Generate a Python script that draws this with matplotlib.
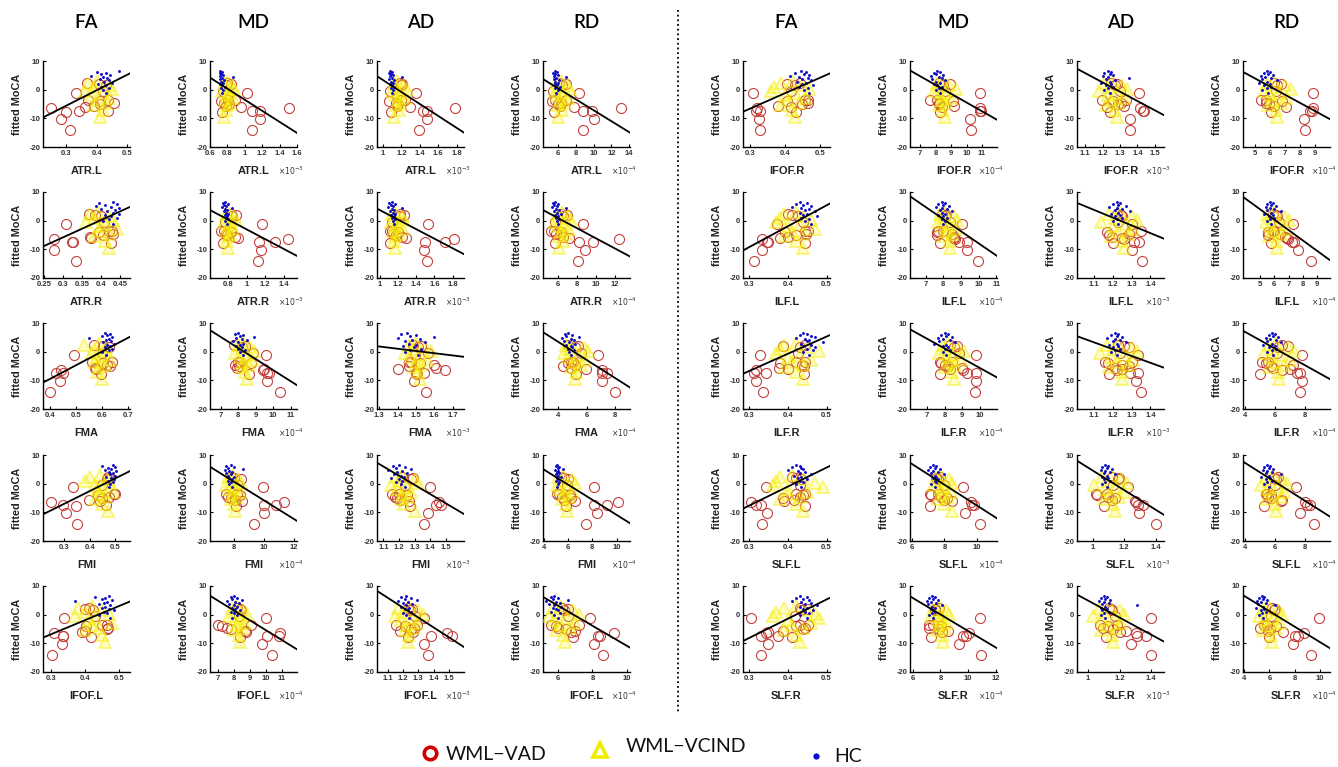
import matplotlib
matplotlib.use('Agg')
import matplotlib.pyplot as plt

# fitted MoCA per group (same subjects in every panel)
vad_y = [-14, -10.3, -7.8, -7.5, -7.3, -6.3, -6, -5.8, -5, -4.5, -3.9, -3.7, -3.5, -1, -0.5, 1.5, 2, 2.2]
vci_y = [3.0, 2.2, 1.5, 0.8, 0.2, -0.5, -1.2, -2.0, -2.8, -3.6, -4.5, -5.5, -7.0, -9.5]
hc_y = [6.6, 6.2, 5.9, 5.5, 5.2, 4.8, 4.4, 4.0, 3.6, 3.2, 2.8, 2.4, 2.0, 1.6, 1.1, 0.6, -0.2, -1.0]

left_tracts = ["ATR.L", "ATR.R", "FMA", "FMI", "IFOF.L"]
right_tracts = ["IFOF.R", "ILF.L", "ILF.R", "SLF.L", "SLF.R"]

# ---------------- left half ----------------
fa_left_vad = [
    [0.313, 0.283, 0.297, 0.438, 0.34, 0.25, 0.361, 0.391, 0.41, 0.458, 0.411, 0.439, 0.371, 0.33, 0.42, 0.43, 0.408, 0.369],
    [0.333, 0.276, 0.426, 0.323, 0.326, 0.276, 0.372, 0.37, 0.403, 0.431, 0.394, 0.428, 0.42, 0.307, 0.407, 0.40, 0.383, 0.368],
    [0.40, 0.438, 0.597, 0.451, 0.421, 0.443, 0.575, 0.572, 0.631, 0.618, 0.602, 0.64, 0.56, 0.49, 0.60, 0.628, 0.602, 0.57],
    [0.35, 0.308, 0.347, 0.463, 0.297, 0.247, 0.44, 0.397, 0.447, 0.475, 0.433, 0.497, 0.50, 0.333, 0.45, 0.467, 0.48, 0.47],
    [0.303, 0.33, 0.416, 0.333, 0.335, 0.307, 0.39, 0.399, 0.466, 0.468, 0.402, 0.449, 0.465, 0.337, 0.43, 0.424, 0.399, 0.41],
]
fa_left_vci = [
    [0.40, 0.37, 0.44, 0.39, 0.45, 0.36, 0.42, 0.38, 0.44, 0.40, 0.43, 0.39, 0.42, 0.41],
    [0.39, 0.37, 0.42, 0.38, 0.43, 0.36, 0.41, 0.40, 0.44, 0.39, 0.42, 0.38, 0.41, 0.42],
    [0.59, 0.53, 0.61, 0.57, 0.62, 0.56, 0.60, 0.58, 0.63, 0.57, 0.61, 0.59, 0.58, 0.60],
    [0.44, 0.40, 0.47, 0.38, 0.48, 0.42, 0.45, 0.43, 0.49, 0.44, 0.46, 0.42, 0.45, 0.47],
    [0.42, 0.38, 0.45, 0.40, 0.47, 0.37, 0.43, 0.41, 0.48, 0.42, 0.44, 0.40, 0.45, 0.46],
]
fa_left_hc = [
    [0.475, 0.40, 0.43, 0.415, 0.445, 0.38, 0.42, 0.435, 0.41, 0.44, 0.425, 0.45, 0.405, 0.43, 0.415, 0.44, 0.42, 0.43],
    [0.43, 0.395, 0.44, 0.41, 0.385, 0.425, 0.445, 0.40, 0.435, 0.415, 0.43, 0.445, 0.41, 0.425, 0.44, 0.42, 0.405, 0.43],
    [0.61, 0.63, 0.62, 0.60, 0.64, 0.55, 0.625, 0.615, 0.635, 0.605, 0.645, 0.62, 0.63, 0.61, 0.64, 0.625, 0.60, 0.615],
    [0.49, 0.45, 0.50, 0.47, 0.485, 0.46, 0.505, 0.475, 0.49, 0.48, 0.50, 0.465, 0.485, 0.495, 0.47, 0.49, 0.48, 0.475],
    [0.47, 0.43, 0.46, 0.45, 0.48, 0.37, 0.465, 0.455, 0.44, 0.475, 0.46, 0.45, 0.47, 0.485, 0.455, 0.465, 0.44, 0.475],
]
fa_left_xlim = [(0.222, 0.511), (0.247, 0.475), (0.372, 0.708), (0.217, 0.558), (0.275, 0.533)]
fa_left_ticks = [[0.3, 0.4, 0.5], [0.25, 0.3, 0.35, 0.4, 0.45], [0.4, 0.5, 0.6, 0.7], [0.3, 0.4, 0.5], [0.3, 0.4, 0.5]]
fa_left_fit = [(-9.7, 5.7), (-9.0, 4.8), (-10.8, 5.2), (-10.7, 4.4), (-8.0, 4.6)]
fa_left_exp = [None] * 5

md_left_vad = [
    [1.08, 1.18, 0.74, 1.17, 1.08, 1.51, 0.96, 0.78, 0.82, 0.76, 0.73, 0.885, 0.81, 1.02, 0.75, 0.78, 0.84, 0.80],
    [1.126, 1.158, 0.74, 1.30, 1.135, 1.45, 0.90, 0.87, 0.786, 0.77, 0.823, 0.72, 0.75, 1.167, 0.76, 0.84, 0.88, 0.83],
    [10.4, 9.63, 8.6, 9.77, 9.65, 9.45, 9.5, 7.91, 8.05, 7.81, 8.72, 8.1, 8.0, 9.58, 8.84, 8.2, 8.4, 7.74],
    [9.37, 10.06, 8.14, 10.0, 10.86, 11.34, 8.57, 8.09, 7.86, 7.63, 8.43, 7.51, 8.2, 9.94, 8.29, 8.51, 8.0, 7.8],
    [10.37, 9.74, 8.41, 10.8, 10.05, 10.9, 8.75, 8.68, 7.84, 7.6, 7.3, 9.1, 7.0, 10.0, 8.3, 8.47, 8.37, 8.2],
]
md_left_vci = [
    [0.80, 0.76, 0.85, 0.78, 0.88, 0.74, 0.82, 0.79, 0.86, 0.77, 0.83, 0.80, 0.78, 0.76],
    [0.80, 0.77, 0.86, 0.79, 0.88, 0.75, 0.83, 0.80, 0.85, 0.77, 0.82, 0.79, 0.78, 0.80],
    [8.3, 8.0, 8.7, 8.2, 8.9, 7.8, 8.5, 8.1, 8.8, 8.3, 8.6, 8.2, 8.4, 8.5],
    [7.9, 7.6, 8.3, 7.8, 8.5, 7.5, 8.1, 7.7, 8.4, 7.9, 8.2, 7.8, 8.0, 8.1],
    [8.2, 7.9, 8.6, 8.0, 8.8, 7.7, 8.4, 8.1, 8.7, 8.2, 8.5, 8.0, 8.3, 8.4],
]
md_left_hc = [
    [0.72, 0.74, 0.71, 0.73, 0.75, 0.72, 0.87, 0.74, 0.71, 0.76, 0.73, 0.75, 0.72, 0.74, 0.77, 0.73, 0.75, 0.74],
    [0.76, 0.74, 0.79, 0.75, 0.77, 0.73, 0.84, 0.76, 0.78, 0.75, 0.77, 0.80, 0.76, 0.78, 0.77, 0.79, 0.76, 0.78],
    [8.0, 7.8, 8.3, 8.1, 8.9, 7.9, 8.2, 8.5, 7.7, 8.0, 8.3, 8.1, 7.9, 8.2, 8.0, 8.4, 8.1, 8.3],
    [7.8, 7.5, 8.0, 7.6, 8.6, 7.4, 7.7, 7.9, 7.5, 7.8, 7.6, 8.0, 7.7, 7.9, 7.6, 7.8, 7.7, 7.9],
    [8.0, 7.8, 8.2, 7.9, 8.5, 7.6, 8.1, 8.3, 7.7, 8.0, 8.2, 7.9, 8.1, 8.4, 7.8, 8.0, 8.2, 7.9],
]
md_left_xlim = [(0.6, 1.6), (0.6, 1.544), (6.39, 11.37), (6.43, 12.23), (6.52, 11.95)]
md_left_ticks = [[0.6, 0.8, 1, 1.2, 1.4, 1.6], [0.8, 1, 1.2, 1.4], [7, 8, 9, 10, 11], [8, 10, 12], [7, 8, 9, 10, 11]]
md_left_fit = [(4.2, -15.1), (3.7, -12.3), (7.5, -11.7), (5.9, -13.0), (6.6, -12.1)]
md_left_exp = [-3, -3, -4, -4, -4]

ad_left_vad = [
    [1.39, 1.48, 1.09, 1.48, 1.43, 1.78, 1.29, 1.15, 1.16, 1.14, 1.07, 1.24, 1.20, 1.36, 1.08, 1.20, 1.21, 1.19],
    [1.515, 1.48, 1.108, 1.716, 1.50, 1.82, 1.285, 1.248, 1.18, 1.145, 1.20, 1.108, 1.13, 1.53, 1.13, 1.22, 1.262, 1.225],
    [1.554, 1.487, 1.508, 1.543, 1.50, 1.658, 1.40, 1.612, 1.462, 1.60, 1.524, 1.473, 1.46, 1.497, 1.566, 1.51, 1.53, 1.485],
    [1.358, 1.386, 1.271, 1.467, 1.435, 1.454, 1.263, 1.209, 1.19, 1.173, 1.25, 1.154, 1.20, 1.40, 1.236, 1.277, 1.29, 1.222],
    [1.362, 1.334, 1.23, 1.384, 1.522, 1.486, 1.266, 1.183, 1.252, 1.274, 1.21, 1.293, 1.155, 1.334, 1.28, 1.246, 1.26, 1.235],
]
ad_left_vci = [
    [1.15, 1.12, 1.22, 1.14, 1.26, 1.10, 1.18, 1.13, 1.24, 1.16, 1.20, 1.14, 1.17, 1.12],
    [1.17, 1.13, 1.24, 1.15, 1.27, 1.12, 1.20, 1.16, 1.25, 1.14, 1.21, 1.17, 1.15, 1.16],
    [1.50, 1.46, 1.55, 1.48, 1.58, 1.44, 1.52, 1.47, 1.56, 1.50, 1.53, 1.49, 1.51, 1.52],
    [1.22, 1.18, 1.30, 1.20, 1.32, 1.15, 1.25, 1.19, 1.28, 1.22, 1.26, 1.21, 1.23, 1.30],
    [1.24, 1.17, 1.30, 1.20, 1.33, 1.15, 1.26, 1.19, 1.29, 1.22, 1.27, 1.21, 1.24, 1.23],
]
ad_left_hc = [
    [1.08, 1.10, 1.07, 1.09, 1.11, 1.08, 1.21, 1.10, 1.06, 1.12, 1.09, 1.11, 1.08, 1.10, 1.12, 1.09, 1.11, 1.10],
    [1.13, 1.10, 1.16, 1.12, 1.14, 1.09, 1.24, 1.13, 1.15, 1.11, 1.14, 1.17, 1.12, 1.15, 1.13, 1.16, 1.14, 1.15],
    [1.45, 1.42, 1.50, 1.47, 1.60, 1.40, 1.52, 1.48, 1.44, 1.55, 1.46, 1.50, 1.43, 1.49, 1.53, 1.47, 1.44, 1.51],
    [1.20, 1.16, 1.24, 1.18, 1.28, 1.13, 1.22, 1.19, 1.25, 1.17, 1.21, 1.23, 1.15, 1.20, 1.22, 1.18, 1.21, 1.24],
    [1.22, 1.19, 1.25, 1.21, 1.29, 1.17, 1.23, 1.20, 1.26, 1.22, 1.19, 1.24, 1.21, 1.23, 1.25, 1.20, 1.22, 1.24],
]
ad_left_xlim = [(0.935, 1.88), (0.967, 1.926), (1.288, 1.762), (1.059, 1.617), (1.031, 1.597)]
ad_left_ticks = [[1, 1.2, 1.4, 1.6, 1.8], [1, 1.2, 1.4, 1.6, 1.8], [1.3, 1.4, 1.5, 1.6, 1.7],
                 [1.1, 1.2, 1.3, 1.4, 1.5], [1.1, 1.2, 1.3, 1.4, 1.5]]
ad_left_fit = [(4.7, -15.0), (4.2, -11.7), (1.9, -1.8), (7.3, -10.6), (8.3, -11.3)]
ad_left_exp = [-3] * 5

rd_left_vad = [
    [8.8, 10.0, 5.55, 9.85, 8.75, 13.1, 7.8, 6.2, 6.0, 6.3, 5.36, 6.9, 5.7, 8.4, 5.4, 6.4, 6.9, 6.1],
    [8.1, 8.8, 5.69, 9.7, 8.22, 12.4, 7.2, 6.58, 6.22, 5.78, 6.31, 5.33, 5.6, 8.67, 5.7, 6.5, 7.0, 6.36],
    [8.0, 7.1, 5.27, 7.05, 7.4, 7.1, 5.99, 4.89, 4.39, 5.19, 4.74, 5.04, 4.9, 6.81, 5.63, 5.2, 5.39, 4.74],
    [7.47, 8.35, 5.87, 9.18, 8.13, 10.09, 6.56, 5.68, 6.23, 5.54, 6.2, 5.1, 5.27, 8.16, 5.9, 6.0, 5.68, 5.4],
    [8.63, 8.09, 6.86, 8.45, 8.3, 9.26, 6.74, 6.98, 6.49, 6.0, 5.88, 7.23, 5.63, 7.84, 6.56, 6.37, 6.6, 6.25],
]
rd_left_vci = [
    [6.3, 5.8, 7.0, 6.1, 7.3, 5.6, 6.6, 5.9, 7.1, 6.2, 6.8, 6.0, 6.4, 6.0],
    [6.4, 5.9, 7.1, 6.2, 7.4, 5.7, 6.7, 6.0, 7.2, 6.3, 6.9, 6.1, 6.5, 6.1],
    [5.0, 4.6, 5.8, 4.8, 6.1, 4.4, 5.4, 4.7, 5.9, 5.1, 5.6, 4.9, 5.3, 5.2],
    [5.6, 5.2, 6.3, 5.4, 6.6, 5.1, 5.9, 5.3, 6.4, 5.7, 6.1, 5.5, 5.8, 5.9],
    [6.2, 5.7, 6.9, 6.0, 7.2, 5.5, 6.5, 5.8, 7.0, 6.1, 6.7, 5.9, 6.3, 6.4],
]
rd_left_hc = [
    [5.6, 5.9, 5.4, 5.7, 6.0, 5.5, 6.9, 5.8, 5.5, 6.1, 5.7, 6.0, 5.6, 5.9, 6.2, 5.7, 6.0, 5.8],
    [5.7, 5.5, 6.0, 5.6, 5.9, 5.4, 6.8, 5.8, 6.1, 5.6, 5.9, 6.3, 5.7, 6.0, 5.8, 6.1, 5.9, 6.0],
    [4.7, 4.5, 5.0, 4.6, 5.5, 4.3, 4.9, 5.1, 4.4, 4.8, 5.2, 4.6, 4.9, 5.0, 4.7, 5.1, 4.8, 4.9],
    [5.1, 5.0, 5.3, 5.2, 5.6, 4.9, 5.2, 5.1, 5.3, 5.0, 5.2, 5.4, 5.1, 5.2, 5.0, 5.3, 5.2, 5.1],
    [5.8, 5.6, 6.0, 5.7, 6.6, 5.3, 5.9, 6.1, 5.5, 5.8, 6.2, 5.7, 5.9, 6.0, 5.6, 6.1, 5.8, 6.0],
]
rd_left_xlim = [(4.3, 14.1), (4.44, 13.56), (2.96, 9.04), (3.95, 11.1), (5.14, 10.17)]
rd_left_ticks = [[6, 8, 10, 12, 14], [6, 8, 10, 12], [4, 6, 8], [4, 6, 8, 10], [6, 8, 10]]
rd_left_fit = [(3.7, -15.0), (3.7, -12.5), (6.8, -12.5), (5.1, -13.8), (6.2, -11.5)]
rd_left_exp = [-4] * 5

# ---------------- right half ----------------
fa_right_vad = [
    [0.33, 0.326, 0.433, 0.318, 0.329, 0.321, 0.419, 0.381, 0.45, 0.467, 0.407, 0.465, 0.457, 0.31, 0.419, 0.43, 0.405, 0.443],
    [0.311, 0.333, 0.443, 0.346, 0.349, 0.333, 0.379, 0.399, 0.421, 0.448, 0.393, 0.453, 0.443, 0.371, 0.44, 0.426, 0.41, 0.40],
    [0.335, 0.316, 0.441, 0.311, 0.342, 0.316, 0.40, 0.377, 0.441, 0.437, 0.379, 0.445, 0.421, 0.327, 0.426, 0.43, 0.388, 0.443],
    [0.334, 0.346, 0.443, 0.318, 0.33, 0.305, 0.39, 0.415, 0.386, 0.43, 0.44, 0.445, 0.421, 0.342, 0.43, 0.435, 0.42, 0.41],
    [0.331, 0.349, 0.41, 0.375, 0.33, 0.342, 0.349, 0.388, 0.44, 0.445, 0.421, 0.432, 0.453, 0.305, 0.419, 0.434, 0.453, 0.43],
]
fa_right_vci = [
    [0.42, 0.39, 0.45, 0.37, 0.47, 0.36, 0.43, 0.40, 0.46, 0.41, 0.44, 0.39, 0.42, 0.43],
    [0.42, 0.39, 0.44, 0.38, 0.46, 0.37, 0.43, 0.40, 0.47, 0.41, 0.44, 0.39, 0.42, 0.44],
    [0.42, 0.39, 0.45, 0.38, 0.48, 0.37, 0.43, 0.40, 0.46, 0.41, 0.44, 0.39, 0.42, 0.44],
    [0.41, 0.38, 0.44, 0.37, 0.47, 0.36, 0.49, 0.40, 0.45, 0.40, 0.43, 0.38, 0.42, 0.44],
    [0.42, 0.39, 0.45, 0.37, 0.47, 0.36, 0.48, 0.40, 0.46, 0.41, 0.44, 0.39, 0.42, 0.43],
]
fa_right_hc = [
    [0.445, 0.46, 0.43, 0.455, 0.47, 0.415, 0.44, 0.465, 0.45, 0.475, 0.435, 0.46, 0.45, 0.48, 0.44, 0.465, 0.455, 0.47],
    [0.43, 0.45, 0.42, 0.44, 0.46, 0.41, 0.435, 0.455, 0.445, 0.47, 0.43, 0.45, 0.44, 0.475, 0.435, 0.455, 0.445, 0.46],
    [0.44, 0.45, 0.43, 0.46, 0.47, 0.42, 0.445, 0.455, 0.45, 0.49, 0.435, 0.46, 0.44, 0.47, 0.45, 0.465, 0.44, 0.455],
    [0.42, 0.43, 0.41, 0.435, 0.44, 0.40, 0.425, 0.445, 0.43, 0.46, 0.415, 0.435, 0.425, 0.45, 0.43, 0.44, 0.42, 0.435],
    [0.43, 0.45, 0.42, 0.44, 0.455, 0.41, 0.435, 0.46, 0.445, 0.475, 0.43, 0.45, 0.44, 0.465, 0.445, 0.455, 0.43, 0.45],
]
fa_right_xlim = [(0.281, 0.529), (0.2835, 0.509), (0.2835, 0.509), (0.2835, 0.509), (0.2835, 0.509)]
fa_right_ticks = [[0.3, 0.4, 0.5]] * 5
fa_right_fit = [(-7.7, 5.7), (-10.4, 6.0), (-7.7, 5.8), (-8.7, 6.2), (-9.2, 5.9)]
fa_right_exp = [None] * 5

md_right_vad = [
    [10.3, 10.24, 8.3, 10.9, 10.95, 10.85, 8.4, 9.2, 8.25, 8.2, 9.1, 8.08, 7.65, 10.85, 8.6, 8.5, 8.94, 8.2],
    [9.96, 9.36, 7.8, 8.88, 9.36, 8.69, 8.6, 8.63, 7.67, 8.52, 7.63, 7.72, 8.0, 9.07, 8.4, 8.1, 8.16, 7.9],
    [9.71, 9.76, 7.72, 9.8, 9.28, 9.04, 8.32, 9.0, 8.2, 8.03, 7.77, 8.44, 7.72, 9.8, 8.8, 8.5, 8.68, 8.3],
    [10.2, 9.29, 7.13, 9.74, 9.82, 9.68, 8.5, 7.97, 8.16, 7.79, 7.18, 7.58, 7.1, 9.16, 8.0, 7.6, 7.45, 7.7],
    [10.95, 9.33, 7.3, 9.88, 9.64, 10.1, 8.12, 8.58, 7.88, 7.15, 8.06, 7.5, 7.2, 10.9, 7.8, 7.6, 7.58, 7.9],
]
md_right_vci = [
    [8.4, 8.1, 8.9, 8.2, 9.3, 7.9, 8.6, 8.3, 9.0, 8.4, 8.7, 8.2, 8.5, 8.6],
    [8.1, 7.8, 8.6, 8.0, 8.8, 7.7, 8.3, 7.9, 8.7, 8.2, 8.5, 8.0, 8.3, 8.4],
    [8.2, 7.9, 8.7, 8.0, 9.1, 7.7, 8.4, 8.1, 8.9, 8.3, 8.6, 8.0, 8.4, 8.5],
    [7.8, 7.5, 8.3, 7.6, 8.5, 7.3, 8.0, 7.7, 8.4, 7.9, 8.2, 7.6, 8.0, 8.5],
    [7.9, 7.5, 8.4, 7.7, 8.6, 7.3, 8.1, 7.8, 8.5, 8.0, 8.3, 7.7, 8.1, 8.2],
]
md_right_hc = [
    [8.1, 8.3, 7.9, 8.0, 8.5, 7.7, 8.2, 8.4, 7.8, 8.6, 8.0, 8.3, 7.9, 8.1, 8.4, 8.2, 8.0, 8.3],
    [7.9, 8.1, 7.7, 8.0, 8.3, 7.6, 7.9, 8.2, 7.8, 8.5, 7.9, 8.1, 7.7, 8.0, 8.2, 7.9, 8.1, 8.0],
    [8.0, 8.2, 7.8, 8.1, 8.4, 7.6, 7.9, 8.3, 7.7, 8.6, 7.4, 8.1, 7.9, 8.2, 8.0, 8.3, 7.9, 8.1],
    [7.3, 7.5, 7.1, 7.4, 7.7, 7.0, 7.3, 7.6, 7.2, 8.0, 7.4, 7.5, 7.3, 7.6, 7.4, 7.5, 7.2, 7.4],
    [7.4, 7.6, 7.2, 7.5, 7.8, 7.0, 7.3, 7.7, 7.1, 8.1, 7.4, 7.6, 7.3, 7.5, 7.6, 7.4, 7.2, 7.5],
]
md_right_xlim = [(6.35, 11.97), (6.11, 11.05), (6.04, 10.96), (5.87, 11.26), (5.8, 12.1)]
md_right_ticks = [[7, 8, 9, 10, 11], [7, 8, 9, 10, 11], [7, 8, 9, 10], [6, 8, 10], [6, 8, 10, 12]]
md_right_fit = [(6.7, -10.5), (8.5, -12.3), (7.8, -9.0), (7.3, -12.1), (6.4, -11.7)]
md_right_exp = [-4] * 5

ad_right_vad = [
    [1.36, 1.36, 1.24, 1.43, 1.437, 1.417, 1.225, 1.32, 1.287, 1.306, 1.26, 1.336, 1.196, 1.408, 1.298, 1.27, 1.283, 1.25],
    [1.355, 1.303, 1.20, 1.314, 1.337, 1.258, 1.251, 1.197, 1.179, 1.287, 1.168, 1.296, 1.348, 1.303, 1.23, 1.25, 1.242, 1.22],
    [1.348, 1.325, 1.179, 1.291, 1.332, 1.224, 1.251, 1.213, 1.287, 1.247, 1.174, 1.303, 1.16, 1.332, 1.24, 1.287, 1.26, 1.23],
    [1.40, 1.292, 1.07, 1.286, 1.319, 1.278, 1.27, 1.12, 1.143, 1.10, 1.027, 1.02, 1.089, 1.224, 1.13, 1.16, 1.17, 1.12],
    [1.40, 1.271, 1.116, 1.369, 1.31, 1.30, 1.199, 1.24, 1.155, 1.095, 1.129, 1.181, 1.077, 1.40, 1.168, 1.15, 1.142, 1.13],
]
ad_right_vci = [
    [1.26, 1.21, 1.31, 1.24, 1.34, 1.18, 1.28, 1.23, 1.32, 1.25, 1.29, 1.22, 1.27, 1.28],
    [1.24, 1.18, 1.30, 1.21, 1.33, 1.14, 1.27, 1.20, 1.31, 1.23, 1.28, 1.19, 1.25, 1.26],
    [1.23, 1.17, 1.30, 1.20, 1.33, 1.13, 1.26, 1.19, 1.31, 1.22, 1.28, 1.18, 1.25, 1.25],
    [1.12, 1.06, 1.18, 1.09, 1.22, 1.01, 1.15, 1.08, 1.20, 1.11, 1.17, 1.07, 1.13, 1.14],
    [1.14, 1.07, 1.20, 1.10, 1.23, 1.03, 1.17, 1.09, 1.21, 1.12, 1.18, 1.08, 1.15, 1.16],
]
ad_right_hc = [
    [1.23, 1.25, 1.21, 1.24, 1.26, 1.20, 1.23, 1.35, 1.22, 1.27, 1.24, 1.19, 1.25, 1.22, 1.26, 1.23, 1.21, 1.24],
    [1.22, 1.24, 1.20, 1.23, 1.27, 1.18, 1.22, 1.25, 1.21, 1.29, 1.23, 1.19, 1.24, 1.21, 1.25, 1.22, 1.20, 1.23],
    [1.21, 1.23, 1.19, 1.22, 1.25, 1.17, 1.21, 1.24, 1.20, 1.27, 1.22, 1.18, 1.23, 1.20, 1.24, 1.21, 1.19, 1.22],
    [1.08, 1.10, 1.06, 1.09, 1.12, 1.05, 1.08, 1.11, 1.07, 1.14, 1.09, 1.06, 1.10, 1.07, 1.11, 1.08, 1.06, 1.09],
    [1.10, 1.12, 1.08, 1.11, 1.14, 1.07, 1.10, 1.13, 1.09, 1.31, 1.11, 1.08, 1.12, 1.09, 1.13, 1.10, 1.08, 1.11],
]
ad_right_xlim = [(1.052, 1.553), (1.01, 1.472), (1.01, 1.472), (0.90, 1.454), (0.93, 1.48)]
ad_right_ticks = [[1.1, 1.2, 1.3, 1.4, 1.5], [1.1, 1.2, 1.3, 1.4], [1.1, 1.2, 1.3, 1.4], [1, 1.2, 1.4], [1, 1.2, 1.4]]
ad_right_fit = [(7.3, -8.9), (6.2, -6.3), (5.4, -5.6), (8.0, -10.9), (7.0, -9.4)]
ad_right_exp = [-3] * 5

rd_right_vad = [
    [8.33, 8.27, 6.1, 8.67, 8.82, 8.9, 7.1, 6.27, 5.96, 5.78, 6.84, 5.78, 5.44, 8.9, 6.44, 6.5, 6.73, 6.3],
    [8.56, 7.67, 5.74, 7.22, 7.37, 6.93, 6.9, 6.78, 5.59, 6.39, 5.59, 5.89, 6.0, 7.28, 6.33, 6.2, 6.1, 5.9],
    [7.71, 7.86, 5.0, 7.71, 7.5, 6.51, 7.0, 5.86, 5.71, 7.2, 5.43, 5.57, 5.14, 7.86, 6.14, 6.23, 6.86, 6.5],
    [8.63, 7.66, 5.29, 8.14, 8.34, 8.0, 6.43, 6.51, 5.71, 5.57, 5.71, 5.43, 5.5, 7.43, 6.0, 6.1, 5.94, 6.2],
    [9.3, 7.83, 5.95, 8.03, 8.27, 8.77, 7.1, 5.88, 6.04, 5.28, 6.51, 5.78, 5.58, 9.9, 6.13, 6.32, 6.45, 6.2],
]
rd_right_vci = [
    [6.3, 5.8, 7.0, 6.1, 7.4, 5.6, 6.6, 6.0, 7.1, 6.2, 6.8, 5.9, 6.4, 6.5],
    [6.0, 5.5, 6.7, 5.8, 7.0, 5.4, 6.3, 5.7, 6.8, 5.9, 6.5, 5.6, 6.1, 6.2],
    [6.1, 5.6, 6.9, 5.8, 7.3, 5.3, 6.4, 5.7, 7.0, 6.0, 6.6, 5.6, 6.2, 6.3],
    [5.9, 5.4, 6.5, 5.6, 6.8, 5.1, 6.2, 5.5, 6.6, 5.8, 6.4, 5.4, 6.0, 6.1],
    [6.0, 5.5, 6.7, 5.7, 7.0, 5.2, 6.3, 5.6, 6.8, 5.9, 6.5, 5.5, 6.1, 6.2],
]
rd_right_hc = [
    [5.8, 6.0, 5.6, 5.9, 6.2, 5.4, 5.7, 6.1, 5.5, 6.5, 5.8, 5.3, 6.0, 5.6, 6.1, 5.8, 5.5, 5.9],
    [5.7, 5.9, 5.5, 5.8, 6.1, 5.4, 5.7, 6.0, 5.5, 6.5, 5.8, 5.3, 5.9, 5.6, 6.0, 5.7, 5.5, 5.8],
    [5.8, 6.0, 5.6, 5.9, 6.2, 5.4, 5.7, 6.1, 5.5, 6.4, 5.8, 5.2, 6.0, 5.6, 6.1, 5.8, 5.5, 5.9],
    [5.5, 5.7, 5.3, 5.6, 5.9, 5.2, 5.5, 5.8, 5.4, 6.4, 5.6, 5.1, 5.7, 5.4, 5.8, 5.5, 5.3, 5.6],
    [5.4, 5.6, 5.2, 5.5, 5.8, 5.0, 5.3, 5.7, 5.1, 6.4, 5.5, 4.9, 5.6, 5.3, 5.7, 5.4, 5.2, 5.5],
]
rd_right_xlim = [(4.22, 10.0), (3.81, 9.89), (3.86, 9.71), (3.86, 9.71), (3.9, 10.8)]
rd_right_ticks = [[5, 6, 7, 8, 9], [5, 6, 7, 8, 9], [4, 6, 8], [4, 6, 8], [4, 6, 8, 10]]
rd_right_fit = [(6.2, -10.3), (8.3, -13.8), (7.3, -9.6), (7.7, -11.5), (6.8, -11.7)]
rd_right_exp = [-4] * 5

W, H = 1338, 767
col_left = [43, 210, 377, 543, 743, 910, 1077, 1243]
row_top = [61, 192, 323, 455, 586]
ax_w, ax_h = 87, 86

red = '#c4403c'
yellow_face = (1.0, 0.98, 0.0, 0.22)
yellow_edge = (0.96, 0.93, 0.0, 0.45)
blue = '#0a0ac8'
tick_font = {'family': ['Liberation Sans', 'DejaVu Sans'], 'weight': 'bold', 'size': 5.5}

columns = [
    ("FA", left_tracts, fa_left_vad, fa_left_vci, fa_left_hc, fa_left_xlim, fa_left_ticks, fa_left_fit, fa_left_exp),
    ("MD", left_tracts, md_left_vad, md_left_vci, md_left_hc, md_left_xlim, md_left_ticks, md_left_fit, md_left_exp),
    ("AD", left_tracts, ad_left_vad, ad_left_vci, ad_left_hc, ad_left_xlim, ad_left_ticks, ad_left_fit, ad_left_exp),
    ("RD", left_tracts, rd_left_vad, rd_left_vci, rd_left_hc, rd_left_xlim, rd_left_ticks, rd_left_fit, rd_left_exp),
    ("FA", right_tracts, fa_right_vad, fa_right_vci, fa_right_hc, fa_right_xlim, fa_right_ticks, fa_right_fit, fa_right_exp),
    ("MD", right_tracts, md_right_vad, md_right_vci, md_right_hc, md_right_xlim, md_right_ticks, md_right_fit, md_right_exp),
    ("AD", right_tracts, ad_right_vad, ad_right_vci, ad_right_hc, ad_right_xlim, ad_right_ticks, ad_right_fit, ad_right_exp),
    ("RD", right_tracts, rd_right_vad, rd_right_vci, rd_right_hc, rd_right_xlim, rd_right_ticks, rd_right_fit, rd_right_exp),
]

fig = plt.figure(figsize=(W / 100, H / 100), dpi=100)

# overlay in pixel units for headers, separator and legend
over = fig.add_axes([0, 0, 1, 1])
over.set_xlim(0, W)
over.set_ylim(H, 0)
over.axis('off')

for c, (meas, tracts, vad, vci, hc, xlims, ticks, fits, exps) in enumerate(columns):
    over.text(col_left[c] + ax_w / 2, 23, meas, ha='center', va='center',
              fontsize=13.5, family=['Lato', 'DejaVu Sans'], fontweight='semibold')
    for r in range(5):
        ax = fig.add_axes([col_left[c] / W, 1 - (row_top[r] + ax_h) / H, ax_w / W, ax_h / H])
        ax.plot(vad[r], vad_y, 'o', mfc='none', mec=red, ms=7.2, mew=0.8, zorder=2)
        ax.plot(vci[r], vci_y, '^', mfc=yellow_face, mec=yellow_edge, ms=8.5, mew=1.4, zorder=3)
        ax.plot(hc[r], hc_y, 'o', color=blue, ms=2.1, mew=0, zorder=4)
        x0, x1 = xlims[r]
        ax.plot([x0, x1], list(fits[r]), color='black', lw=1.3, zorder=5)
        ax.set_xlim(x0, x1)
        ax.set_ylim(-20, 10)
        ax.set_xticks(ticks[r])
        ax.set_xticklabels([f"{t:g}" for t in ticks[r]], fontdict=tick_font, color='#333333')
        ax.set_yticks([-20, -10, 0, 10])
        ax.set_yticklabels(['-20', '-10', '0', '10'], fontdict=tick_font, color='#333333')
        ax.tick_params(direction='in', length=2, width=0.8, pad=2)
        for s in ('top', 'right'):
            ax.spines[s].set_visible(False)
        for s in ('left', 'bottom'):
            ax.spines[s].set_linewidth(1.0)
        ax.text(0.5, -0.28, tracts[r], transform=ax.transAxes, ha='center', va='center',
                fontsize=8, fontweight='bold', family=['Liberation Sans', 'DejaVu Sans'], color='#222222')
        if exps[r] is not None:
            ax.text(0.78, -0.28, r'$\times10^{%d}$' % exps[r], transform=ax.transAxes,
                    ha='left', va='center', fontsize=5.5, color='#333333')
        ax.text(-0.30, 0.5, 'fitted MoCA', transform=ax.transAxes, rotation=90,
                ha='center', va='center', fontsize=7.8, fontweight='bold',
                family=['Liberation Sans', 'DejaVu Sans'], color='#222222')

# dotted separator between the two halves
over.plot([678, 678], [10, 712], color='black', lw=1.3, ls=(0, (1, 1.6)))

# legend
leg_font = dict(fontsize=14, family=['Lato', 'DejaVu Sans'], va='center', ha='left', color='#111111')
over.plot([430], [753], 'o', mfc='none', mec='#d40000', ms=9, mew=2.6)
over.text(446, 754, 'WML\u2212VAD', **leg_font)
over.plot([600], [750], '^', mfc='none', mec='#eeee00', ms=10, mew=2.6)
over.text(626, 746, 'WML\u2212VCIND', **leg_font)
over.plot([816], [756], 'o', color='#0a0ad0', ms=4.5, mew=0)
over.text(834, 756, 'HC', **leg_font)

fig.savefig('out.png', dpi=100)
